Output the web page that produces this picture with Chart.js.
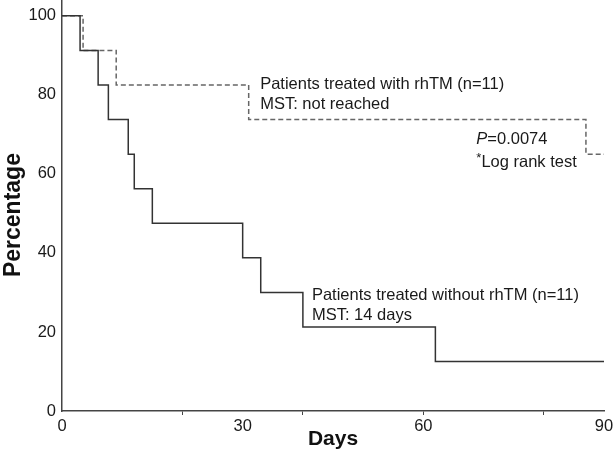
<!DOCTYPE html>
<html>
<head>
<meta charset="utf-8">
<script src="https://cdn.jsdelivr.net/npm/chart.js@4.4.1/dist/chart.umd.min.js"></script>
<style>
  html, body { margin: 0; padding: 0; background: #fff; }
  #wrap { width: 614px; height: 455px; }
</style>
</head>
<body>
<div id="wrap"><canvas id="kmChart"></canvas></div>
<script>
  // survival curves (days, percentage)
  const daysWithout = [0, 3, 6, 7.7, 11, 12, 15, 30, 33, 40, 62, 90];
  const pctWithout = [100, 91.25, 82.5, 73.75, 65, 56.25, 47.5, 38.75, 30, 21.25, 12.5, 12.5];
  const daysWith = [0, 3.5, 9, 31, 87, 90];
  const pctWith = [100, 91.25, 82.5, 73.75, 65, 65];

  const xLabelTicks = [0, 30, 60, 90];
  const xMinorTicks = [20, 40, 60, 80];
  const yTicks = [0, 20, 40, 60, 80, 100];

  // annotation texts placed in data units
  const notes = [
    { x: 32.9, y: 82.7, text: 'Patients treated with rhTM (n=11)' },
    { x: 32.9, y: 77.6, text: 'MST: not reached' },
    { x: 68.8, y: 68.6, text: '=0.0074', italicPrefix: 'P' },
    { x: 68.8, y: 63.0, text: 'Log rank test', supPrefix: '*' },
    { x: 41.5, y: 29.3, text: 'Patients treated without rhTM (n=11)' },
    { x: 41.5, y: 24.2, text: 'MST: 14 days' }
  ];

  const FONT = 'Liberation Sans, Arial, sans-serif';
  const TXT = 16.5;

  const toPoints = (xs, ys) => xs.map((d, i) => ({ x: d, y: ys[i] }));

  const notesPlugin = {
    id: 'notes',
    afterDatasetsDraw(chart) {
      const { ctx, scales: { x, y } } = chart;
      ctx.save();
      ctx.fillStyle = '#1a1a1a';
      ctx.textBaseline = 'middle';
      ctx.textAlign = 'left';
      notes.forEach(n => {
        let px = x.getPixelForValue(n.x);
        const py = y.getPixelForValue(n.y);
        if (n.italicPrefix) {
          ctx.font = 'italic ' + TXT + 'px ' + FONT;
          ctx.fillText(n.italicPrefix, px, py);
          px += ctx.measureText(n.italicPrefix).width;
        }
        if (n.supPrefix) {
          ctx.font = '13px ' + FONT;
          ctx.fillText(n.supPrefix, px, py - 4);
          px += ctx.measureText(n.supPrefix).width;
        }
        ctx.font = TXT + 'px ' + FONT;
        ctx.fillText(n.text, px, py);
      });
      ctx.restore();
    }
  };

  new Chart(document.getElementById('kmChart'), {
    type: 'line',
    data: {
      datasets: [
        {
          data: toPoints(daysWithout, pctWithout),
          borderColor: '#333',
          borderWidth: 1.5,
          stepped: 'before',
          pointRadius: 0,
          fill: false
        },
        {
          data: toPoints(daysWith, pctWith),
          borderColor: '#666',
          borderWidth: 1.5,
          borderDash: [5, 3],
          stepped: 'before',
          pointRadius: 0,
          fill: false
        }
      ]
    },
    options: {
      responsive: true,
      maintainAspectRatio: false,
      animation: false,
      layout: { padding: { left: 0, right: 10, top: 0, bottom: 0 } },
      plugins: {
        legend: { display: false },
        tooltip: { enabled: false }
      },
      scales: {
        x: {
          type: 'linear',
          min: 0,
          max: 90,
          afterBuildTicks: s => {
            const vals = [...new Set([...xLabelTicks, ...xMinorTicks])].sort((a, b) => a - b);
            s.ticks = vals.map(v => ({ value: v }));
          },
          afterFit: s => { s.height = 44; s.paddingLeft = 0; s.paddingRight = 0; },
          ticks: {
            autoSkip: false,
            maxRotation: 0,
            padding: 2,
            color: '#1a1a1a',
            font: { family: FONT, size: TXT },
            callback: v => xLabelTicks.includes(v) ? String(v) : ''
          },
          grid: {
            display: true,
            drawOnChartArea: false,
            drawTicks: true,
            tickLength: 4,
            tickColor: c => (c.tick && xMinorTicks.includes(c.tick.value)) ? '#444' : 'rgba(0,0,0,0)'
          },
          border: { display: true, color: '#444', width: 1.5 },
          title: {
            display: true,
            text: 'Days',
            color: '#111',
            font: { family: FONT, size: 21, weight: 'bold' },
            padding: { top: 0, bottom: 3 }
          }
        },
        y: {
          type: 'linear',
          min: 0,
          max: 104,
          afterBuildTicks: s => { s.ticks = yTicks.map(v => ({ value: v })); },
          afterFit: s => { s.width = 62; s.paddingTop = 0; s.paddingBottom = 0; },
          ticks: {
            padding: 6,
            color: '#1a1a1a',
            font: { family: FONT, size: TXT }
          },
          grid: { display: false, drawTicks: false },
          border: { display: true, color: '#444', width: 1.5 },
          title: {
            display: true,
            text: 'Percentage   ',
            color: '#111',
            font: { family: FONT, size: 23, weight: 'bold' },
            padding: { top: 0, bottom: 0 }
          }
        }
      }
    },
    plugins: [notesPlugin]
  });
</script>
</body>
</html>
